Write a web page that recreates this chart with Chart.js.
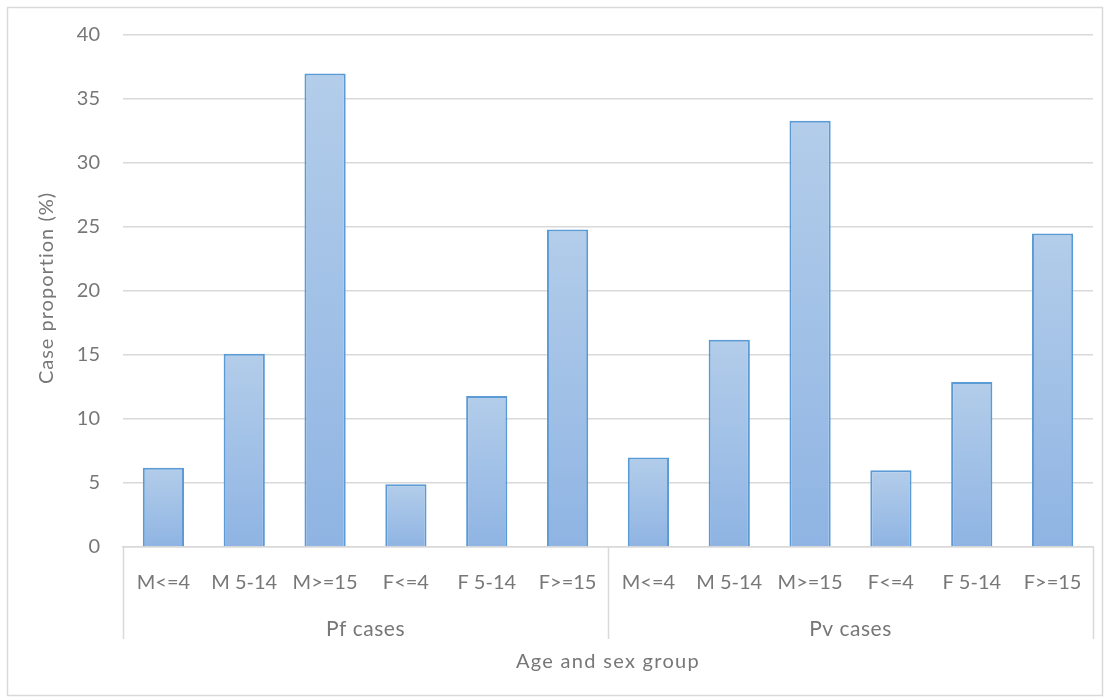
<!DOCTYPE html>
<html>
<head>
<meta charset="utf-8">
<script src="https://cdn.jsdelivr.net/npm/chart.js@4.4.1/dist/chart.umd.min.js"></script>
<style>
  html, body { margin: 0; padding: 0; background: #fff; }
  #wrap { width: 1110px; height: 700px; position: relative; }
</style>
</head>
<body>
<div id="wrap"><canvas id="chart"></canvas></div>
<script>
// data
const ageSexLabels = ["M<=4", "M 5-14", "M>=15", "F<=4", "F 5-14", "F>=15"];
const groupLabels = ["Pf cases", "Pv cases"];
const pfValues = [6.2, 15.1, 37.0, 4.9, 11.8, 24.8];
const pvValues = [7.0, 16.2, 33.3, 6.0, 12.9, 24.5];
const yTicks = [0, 5, 10, 15, 20, 25, 30, 35, 40];
const xTitle = "Age and sex group";
const yTitle = "Case proportion (%)";

const labels = groupLabels.flatMap(() => ageSexLabels);
const values = pfValues.concat(pvValues);

const FONT = "Lato, 'Open Sans', sans-serif";
const TEXT = "#777777";
const GRID = "#d9d9d9";

function barFill(ctx) {
    const chart = ctx.chart;
    const y = chart.scales.y;
    if (!y || ctx.parsed === undefined) return "#9dbde6";
    const top = y.getPixelForValue(ctx.parsed.y);
    const base = y.getPixelForValue(0);
    if (!isFinite(top) || top === base) return "#9dbde6";
    const g = chart.ctx.createLinearGradient(0, top, 0, base);
    g.addColorStop(0, "#b3cdea");
    g.addColorStop(1, "#8fb4e3");
    return g;
}

// frame, group separators/labels and the two axis titles
const groupAxis = {
    id: "groupAxis",
    beforeDraw(chart) {
        const c = chart.ctx;
        c.save();
        c.strokeStyle = GRID;
        c.lineWidth = 1.5;
        c.strokeRect(7.5, 7.5, 1095, 688);
        c.restore();
    },
    afterDraw(chart) {
        const c = chart.ctx;
        const x = chart.scales.x;
        const area = chart.chartArea;
        const bottom = area.bottom;
        const half = (x.getPixelForValue(1) - x.getPixelForValue(0)) / 2;
        const n = ageSexLabels.length;
        c.save();
        c.strokeStyle = GRID;
        c.lineWidth = 1.5;
        for (let g = 0; g <= groupLabels.length; g++) {
            const idx = Math.min(g * n, labels.length - 1);
            const px = g * n < labels.length ? x.getPixelForValue(idx) - half : x.getPixelForValue(idx) + half;
            c.beginPath();
            c.moveTo(Math.round(px) + 0.5, bottom);
            c.lineTo(Math.round(px) + 0.5, bottom + 92);
            c.stroke();
        }
        c.fillStyle = TEXT;
        c.font = "21px " + FONT;
        c.textAlign = "center";
        c.textBaseline = "middle";
        c.letterSpacing = "0.5px";
        groupLabels.forEach((name, g) => {
            const a = x.getPixelForValue(g * n) - half;
            const b = x.getPixelForValue(g * n + n - 1) + half;
            c.fillText(name, (a + b) / 2, bottom + 82);
        });

        c.font = "20px " + FONT;
        c.letterSpacing = "1.3px";
        c.fillText(xTitle, (area.left + area.right) / 2, bottom + 115);

        c.letterSpacing = "1px";
        c.translate(area.left - 76, (area.top + area.bottom) / 2 - 3);
        c.rotate(-Math.PI / 2);
        c.fillText(yTitle, 0, 0);
        c.restore();
    }
};

new Chart(document.getElementById("chart"), {
    type: "bar",
    data: {
        labels: labels,
        datasets: [{
            data: values,
            backgroundColor: barFill,
            borderColor: "#5b9bd5",
            borderWidth: 2,
            borderSkipped: "bottom",
            categoryPercentage: 1,
            barPercentage: 0.51
        }]
    },
    options: {
        responsive: true,
        maintainAspectRatio: false,
        animation: false,
        layout: { padding: { top: 35, right: 17, left: 0, bottom: 0 } },
        plugins: { legend: { display: false }, tooltip: { enabled: false } },
        scales: {
            x: {
                grid: { display: false },
                border: { display: true, color: GRID, width: 1.5 },
                ticks: { color: TEXT, font: { family: FONT, size: 20 }, padding: 16, maxRotation: 0, autoSkip: false },
                afterFit(s) { s.height = 153; }
            },
            y: {
                min: 0,
                max: 40,
                afterBuildTicks(s) { s.ticks = yTicks.map(v => ({ value: v })); },
                grid: { color: GRID, lineWidth: 1.5, drawTicks: false },
                border: { display: false },
                ticks: { color: TEXT, font: { family: FONT, size: 20 }, padding: 23 },
                afterFit(s) { s.width = 123; }
            }
        }
    },
    plugins: [groupAxis]
});
</script>
</body>
</html>
